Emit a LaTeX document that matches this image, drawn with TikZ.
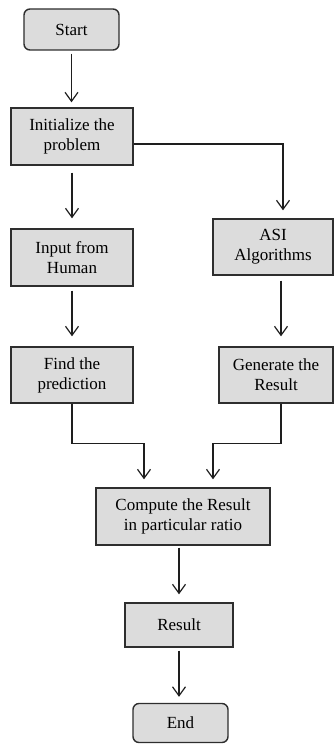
\documentclass[tikz,border=0pt]{standalone}
\usepackage{fontspec}
\setmainfont{Liberation Serif}
\usetikzlibrary{arrows.meta,calc}
\definecolor{boxfill}{HTML}{DCDCDC}
\definecolor{boxline}{HTML}{2E2E2E}
\definecolor{arrline}{HTML}{1E1E1E}
\begin{document}
\begin{tikzpicture}[x=1bp,y=-1bp,
  box/.style={draw=boxline, fill=boxfill, line width=1.4bp, inner sep=0pt, align=center,
    font=\fontsize{17bp}{20bp}\selectfont},
  term/.style={box, rounded corners=6bp},
  arr/.style={draw=arrline, line width=1.2bp, -{Straight Barb[length=9bp,width=13bp]}}]
\useasboundingbox (0,0) rectangle (334,744);
\node[term, minimum width=95bp, minimum height=41bp] (start) at (71.5,29.5) {Start};
\node[box, minimum width=122bp, minimum height=57bp] (init) at (72,136.5) {Initialize the\\problem};
\node[box, minimum width=122bp, minimum height=57bp] (input) at (72,257.5) {Input from\\Human};
\node[box, minimum width=122bp, minimum height=56bp] (find) at (72,375) {Find the\\prediction};
\node[box, minimum width=120bp, minimum height=56bp] (asi) at (273,247) {ASI\\Algorithms};
\node[box, minimum width=114bp, minimum height=56bp] (gen) at (276,375) {Generate the\\Result};
\node[box, minimum width=174bp, minimum height=57bp] (comp) at (183,516.5) {Compute the Result\\in particular ratio};
\node[box, minimum width=108bp, minimum height=44bp] (res) at (179,625) {Result};
\node[term, minimum width=95bp, minimum height=39bp] (end) at (180.5,723) {End};

\draw[arr, shorten <=3bp, shorten >=5bp] (start.south) -- (start.south |- init.north);
\draw[arr, shorten <=7bp, shorten >=10bp] (init.south) -- (init.south |- input.north);
\draw[arr, shorten <=4bp, shorten >=10bp] (input.south) -- (input.south |- find.north);
\coordinate (asiin) at ([xshift=10bp,yshift=8bp]asi.north);
\draw[arr] ([yshift=-7.5bp]init.east) -| (asiin);
\draw[arr, shorten <=5bp, shorten >=10bp] ([xshift=8bp]asi.south) -- ([xshift=8bp]asi.south |- gen.north);
\coordinate (c1) at ([xshift=-39bp,yshift=8bp]comp.north);
\coordinate (c2) at ([xshift=30bp,yshift=8bp]comp.north);
\draw[arr] (find.south) -- ++(0,40) -| (c1);
\draw[arr] ([xshift=5bp]gen.south) -- ++(0,40) -| (c2);
\draw[arr, shorten <=2bp, shorten >=8bp] ([xshift=-4bp]comp.south) -- ([xshift=-4bp]comp.south |- res.north);
\draw[arr, shorten <=3bp, shorten >=6bp] (res.south) -- (res.south |- end.north);
\end{tikzpicture}
\end{document}
